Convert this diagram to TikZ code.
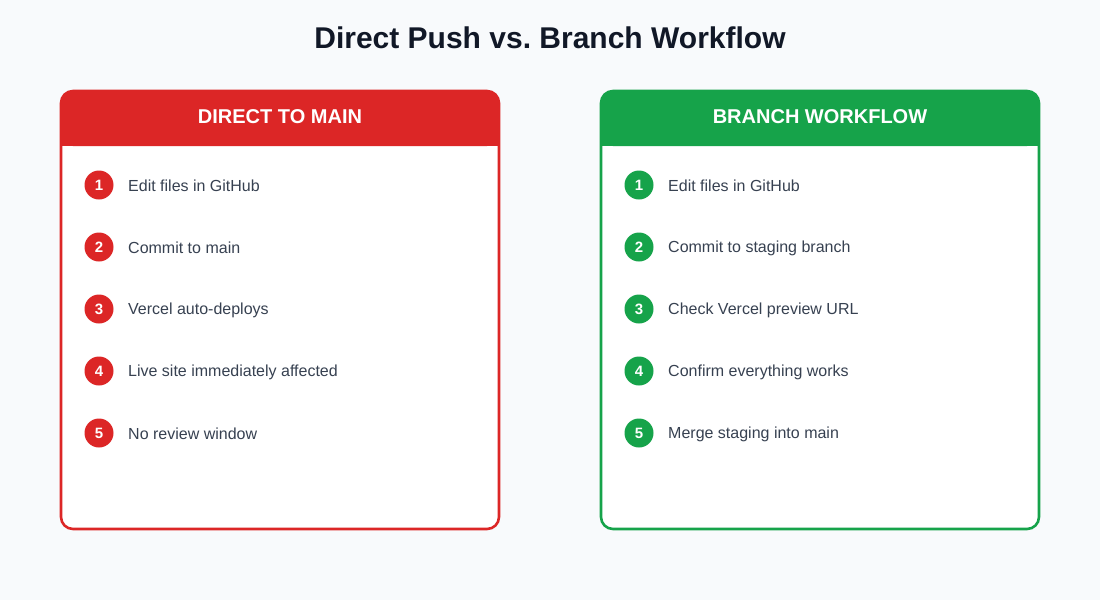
\documentclass[tikz,border=0pt]{standalone}
\usepackage{fontspec}
\setmainfont{Liberation Sans}
\usepackage{xcolor}
\definecolor{wfRed}{HTML}{DC2626}
\definecolor{wfGreen}{HTML}{16A34A}
\definecolor{wfInk}{HTML}{111827}
\definecolor{wfText}{HTML}{374151}
\definecolor{wfBack}{HTML}{F8FAFC}
\usetikzlibrary{positioning}
\frenchspacing

\begin{document}
\begin{tikzpicture}[x=1pt, y=-1pt,
  panel/.style={rounded corners=12pt, line width=2.6pt},
  badge/.style={circle, minimum size=29pt, inner sep=0pt, text=white,
    font=\fontsize{15}{17}\selectfont\bfseries},
  steptext/.style={anchor=west, inner sep=0pt, text=wfText,
    font=\fontsize{16}{19}\selectfont},
  headtext/.style={text=white, font=\fontsize{20}{23}\selectfont\bfseries}]

  % Canvas
  \fill[wfBack] (0,0) rectangle (1100,600);
  \useasboundingbox (0,0) rectangle (1100,600);

  % Title
  \node[text=wfInk, font=\fontsize{30}{35}\selectfont\bfseries] (title) at (550,38)
    {Direct Push vs. Branch Workflow};

  % Left panel — direct to main
  \fill[white, rounded corners=12pt] (61,91) rectangle (499,529);
  \fill[wfRed, rounded corners=12pt] (61,91) rectangle (499,146);
  \fill[wfRed] (61,120) rectangle (499,146);
  \draw[panel, draw=wfRed] (61,91) rectangle (499,529);
  \node[headtext] (lhead) at (280,117) {DIRECT TO MAIN};

  \node[badge, fill=wfRed] (l1) at (99,185) {1};
  \node[steptext] (lt1) at (128,186) {Edit files in GitHub};
  \node[badge, fill=wfRed] (l2) at (99,247) {2};
  \node[steptext] (lt2) at (128,248) {Commit to main};
  \node[badge, fill=wfRed] (l3) at (99,309) {3};
  \node[steptext] (lt3) at (128,310) {Vercel auto-deploys};
  \node[badge, fill=wfRed] (l4) at (99,371) {4};
  \node[steptext] (lt4) at (128,372) {Live site immediately affected};
  \node[badge, fill=wfRed] (l5) at (99,433) {5};
  \node[steptext] (lt5) at (128,434) {No review window};

  % Right panel — branch workflow
  \fill[white, rounded corners=12pt] (601,91) rectangle (1039,529);
  \fill[wfGreen, rounded corners=12pt] (601,91) rectangle (1039,146);
  \fill[wfGreen] (601,120) rectangle (1039,146);
  \draw[panel, draw=wfGreen] (601,91) rectangle (1039,529);
  \node[headtext] (rhead) at (820,117) {BRANCH WORKFLOW};

  \node[badge, fill=wfGreen] (r1) at (639,185) {1};
  \node[steptext] (rt1) at (668,186) {Edit files in GitHub};
  \node[badge, fill=wfGreen] (r2) at (639,247) {2};
  \node[steptext] (rt2) at (668,248) {Commit to staging branch};
  \node[badge, fill=wfGreen] (r3) at (639,309) {3};
  \node[steptext] (rt3) at (668,310) {Check Vercel preview URL};
  \node[badge, fill=wfGreen] (r4) at (639,371) {4};
  \node[steptext] (rt4) at (668,372) {Confirm everything works};
  \node[badge, fill=wfGreen] (r5) at (639,433) {5};
  \node[steptext] (rt5) at (668,434) {Merge staging into main};
\end{tikzpicture}
\end{document}
